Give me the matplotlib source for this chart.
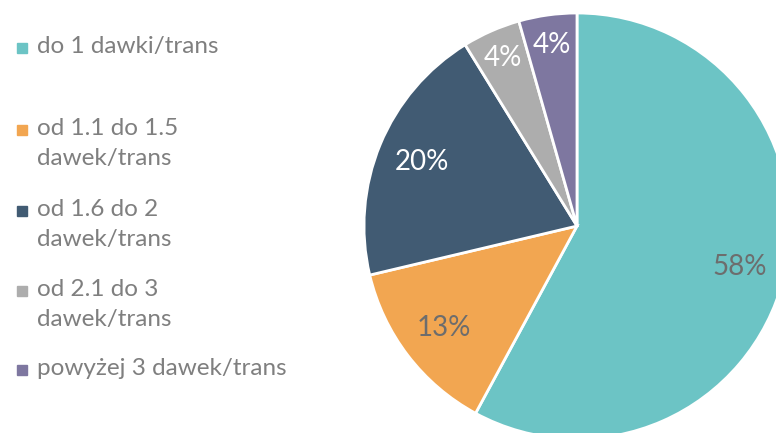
import matplotlib
matplotlib.use('Agg')
import numpy as np
import matplotlib.pyplot as plt
from matplotlib.patches import Rectangle

labels = ['do 1 dawki/trans', 'od 1.1 do 1.5\ndawek/trans', 'od 1.6 do 2\ndawek/trans',
          'od 2.1 do 3\ndawek/trans', 'powyżej 3 dawek/trans']
values = [57.9, 13.4, 19.9, 4.4, 4.4]
colors = ['#6cc4c5', '#f2a651', '#415b73', '#adadad', '#7e77a0']
pct_colors = ['#6d6d6d', '#6d6d6d', 'white', 'white', 'white']

plt.rcParams['font.family'] = ['Lato', 'DejaVu Sans']

fig = plt.figure(figsize=(7.76, 4.33), dpi=100)
# pie runs off the right and bottom edges, like the original
ax = fig.add_axes([(577 - 213) / 776, (433 - 226 - 213) / 433, 426 / 776, 426 / 433])
wedges, texts = ax.pie(values, colors=colors, startangle=90, counterclock=False,
                       radius=1, wedgeprops=dict(edgecolor='white', linewidth=2))
total = sum(values)
for w, v, c in zip(wedges, values, pct_colors):
    ang = np.deg2rad((w.theta1 + w.theta2) / 2)
    r = 0.79 if v > 10 else 0.86
    ax.text(r * np.cos(ang), r * np.sin(ang), '%.0f%%' % (100 * v / total),
            ha='center', va='center', fontsize=20, color=c)
ax.set_xlim(-1, 1)
ax.set_ylim(-1, 1)
ax.set_aspect('equal')
ax.axis('off')

# legend drawn by hand to keep the uneven spacing
ys = [48, 130, 211, 291, 370]
for y, lab, c in zip(ys, labels, colors):
    fig.add_artist(Rectangle((17 / 776, 1 - (y + 5) / 433), 10 / 776, 10 / 433,
                             transform=fig.transFigure, color=c))
    fig.text(37 / 776, 1 - (y - 12) / 433, lab, ha='left', va='top', fontsize=17.5,
             color='#7f7f7f', linespacing=1.55)

fig.savefig('out.png', dpi=100)
